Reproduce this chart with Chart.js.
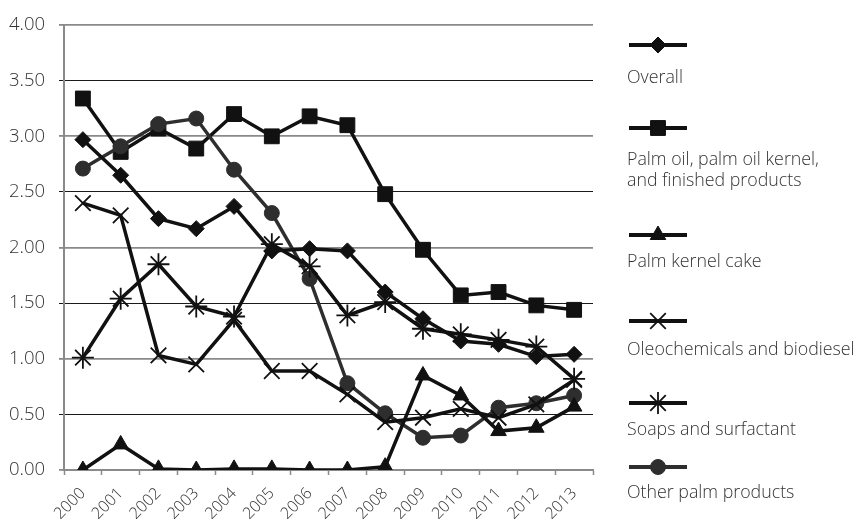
<!DOCTYPE html>
<html>
<head>
<meta charset="utf-8">
<script src="https://cdn.jsdelivr.net/npm/chart.js@4/dist/chart.umd.min.js"></script>
<style>
  html, body { margin: 0; padding: 0; background: #fff; }
  #wrap { width: 855px; height: 519px; position: relative; }
</style>
</head>
<body>
<div id="wrap"><canvas id="c" width="855" height="519"></canvas></div>
<script>
// Years on the category axis
const years = ['2000','2001','2002','2003','2004','2005','2006','2007','2008','2009','2010','2011','2012','2013'];

// Series values by year
const overall      = [2.97, 2.65, 2.26, 2.17, 2.37, 1.97, 1.99, 1.97, 1.60, 1.36, 1.16, 1.13, 1.02, 1.04];
const palmOil      = [3.34, 2.86, 3.07, 2.89, 3.20, 3.00, 3.18, 3.10, 2.48, 1.98, 1.57, 1.60, 1.48, 1.44];
const kernelCake   = [0.00, 0.23, 0.01, 0.00, 0.01, 0.01, 0.00, 0.00, 0.03, 0.85, 0.67, 0.35, 0.38, 0.57];
const oleochem     = [2.40, 2.29, 1.03, 0.95, 1.35, 0.89, 0.89, 0.68, 0.43, 0.47, 0.55, 0.47, 0.59, 0.81];
const soaps        = [1.01, 1.54, 1.85, 1.47, 1.38, 2.03, 1.83, 1.39, 1.51, 1.27, 1.22, 1.17, 1.11, 0.82];
const otherPalm    = [2.71, 2.91, 3.11, 3.16, 2.70, 2.31, 1.72, 0.78, 0.51, 0.29, 0.31, 0.56, 0.60, 0.67];

// Series names (legend text, split into lines)
const seriesNames = [
  ['Overall'],
  ['Palm oil, palm oil kernel,', 'and finished products'],
  ['Palm kernel cake'],
  ['Oleochemicals and biodiesel'],
  ['Soaps and surfactant'],
  ['Other palm products']
];

// Y-axis tick settings
const yMin = 0, yMax = 4, yStep = 0.5;

const FONT = '"Open Sans", "Liberation Sans", sans-serif';
const TEXT = '#333333';

function series(label, data, color, style, radius, bw, order) {
  return {
    label, data,
    borderColor: color,
    backgroundColor: color,
    borderWidth: 3.5,
    pointStyle: style,
    pointRadius: radius,
    pointHoverRadius: radius,
    pointBorderWidth: bw,
    pointBackgroundColor: color,
    pointBorderColor: color,
    tension: 0,
    order
  };
}

const datasets = [
  series(seriesNames[0].join(' '), overall,    '#111', 'rectRot',  8,   1, 0),
  series(seriesNames[1].join(' '), palmOil,    '#111', 'rect',     10.5,1, 2),
  series(seriesNames[2].join(' '), kernelCake, '#111', 'triangle', 9,   1, 0),
  series(seriesNames[3].join(' '), oleochem,   '#111', 'crossRot', 11,  1.8, 0),
  series(seriesNames[4].join(' '), soaps,      '#111', 'star',     11,  1.8, 0),
  series(seriesNames[5].join(' '), otherPalm,  '#2e2e2e', 'circle', 7.5, 1, 1)
];

// Legend drawn down the right side: a short line with the series marker, text beneath
const sideLegend = {
  id: 'sideLegend',
  afterDraw(chart, args, opts) {
    const ctx = chart.ctx;
    const x0 = opts.x, x1 = opts.x + opts.lineLength, xm = (x0 + x1) / 2;
    ctx.save();
    chart.data.datasets.forEach((ds, i) => {
      const slot = opts.slots[i];
      ctx.strokeStyle = ds.borderColor;
      ctx.fillStyle = ds.borderColor;
      ctx.lineWidth = 4;
      ctx.beginPath();
      ctx.moveTo(x0, slot.mark);
      ctx.lineTo(x1, slot.mark);
      ctx.stroke();
      ctx.lineWidth = ds.pointBorderWidth;
      Chart.helpers.drawPoint(ctx, {
        pointStyle: ds.pointStyle,
        radius: ds.pointRadius,
        rotation: 0,
        borderWidth: ds.pointBorderWidth
      }, xm, slot.mark);
      ctx.fillStyle = TEXT;
      ctx.font = '300 17.8px ' + FONT;
      ctx.textBaseline = 'middle';
      ctx.textAlign = 'left';
      seriesNames[i].forEach((line, k) => {
        ctx.fillText(line, x0 - 2, slot.text + k * opts.lineHeight);
      });
    });
    ctx.restore();
  }
};

new Chart(document.getElementById('c'), {
  type: 'line',
  data: { labels: years, datasets },
  plugins: [sideLegend],
  options: {
    responsive: false,
    animation: false,
    events: [],
    layout: { padding: { left: 0, right: 262, top: 15, bottom: 0 } },
    plugins: {
      legend: { display: false },
      tooltip: { enabled: false },
      sideLegend: {
        x: 629,
        lineLength: 58,
        lineHeight: 21,
        slots: [
          { mark: 45,  text: 78 },
          { mark: 128, text: 160 },
          { mark: 235, text: 262 },
          { mark: 321, text: 350 },
          { mark: 403, text: 430 },
          { mark: 467, text: 493 }
        ]
      }
    },
    scales: {
      x: {
        type: 'category',
        offset: true,
        afterFit(scale) { scale.height = 49; },
        grid: {
          offset: true,
          drawOnChartArea: false,
          drawTicks: true,
          tickLength: 5,
          tickColor: '#8a8a8a',
          tickWidth: 1.5
        },
        border: { display: true, color: '#8a8a8a', width: 2 },
        ticks: {
          autoSkip: false,
          maxRotation: 45,
          minRotation: 45,
          padding: 9,
          color: TEXT,
          font: { family: FONT, size: 16, weight: '300' }
        }
      },
      y: {
        min: yMin,
        max: yMax,
        afterFit(scale) { scale.width = 64; },
        afterBuildTicks(scale) {
          const t = [];
          for (let v = yMin; v <= yMax + 1e-9; v += yStep) t.push({ value: +v.toFixed(2) });
          scale.ticks = t;
        },
        grid: {
          color(ctx) { return (ctx.tick && Math.abs(ctx.tick.value % 1) < 1e-9) ? '#8a8a8a' : '#1a1a1a'; },
          lineWidth(ctx) { return (ctx.tick && Math.abs(ctx.tick.value % 1) < 1e-9) ? 1.8 : 1; },
          drawTicks: true,
          tickLength: 5,
          tickColor(ctx) { return (ctx.tick && Math.abs(ctx.tick.value % 1) < 1e-9) ? '#8a8a8a' : '#1a1a1a'; }
        },
        border: { display: true, color: '#8a8a8a', width: 2 },
        ticks: {
          padding: 14,
          color: TEXT,
          font: { family: FONT, size: 18.5, weight: '300' },
          callback: (v) => Number(v).toFixed(2)
        }
      }
    }
  }
});
</script>
</body>
</html>
